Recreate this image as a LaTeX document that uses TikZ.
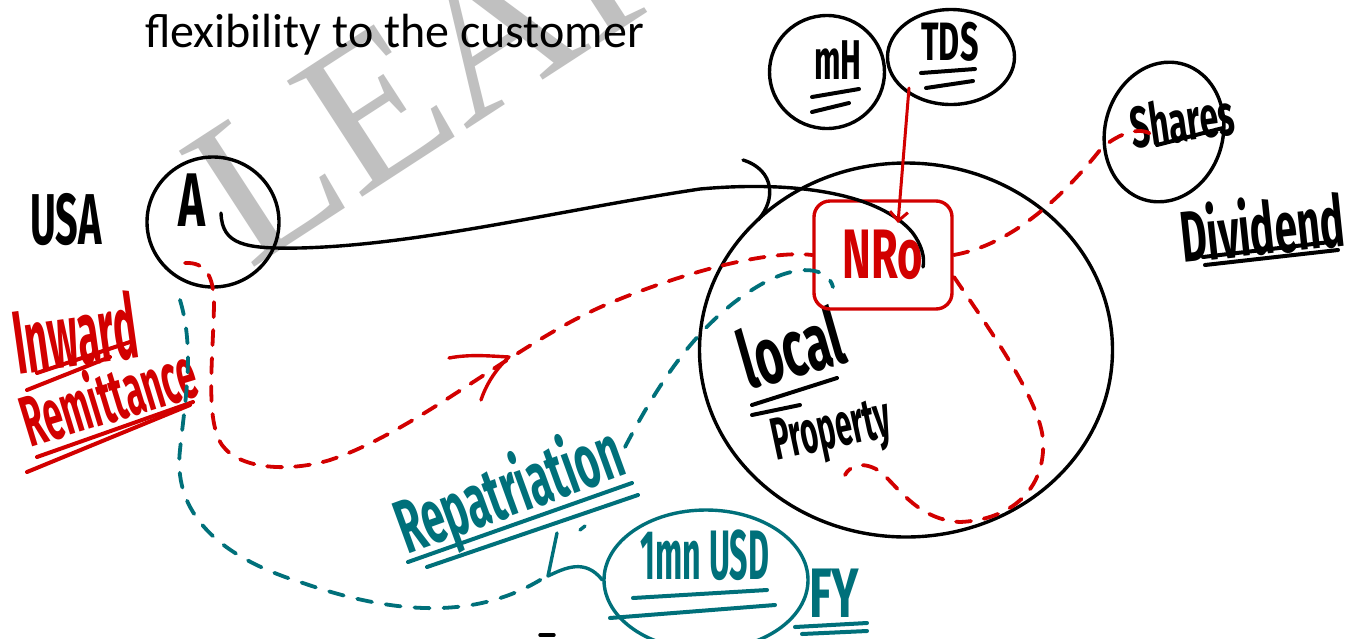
\documentclass[tikz,border=0pt]{standalone}
\usepackage{fontspec}
\setmainfont{Carlito}
\newfontfamily\hand{Fira Sans}
\newfontfamily\wmfont{Liberation Serif}
\usetikzlibrary{shapes.geometric,arrows.meta}
\definecolor{rd}{HTML}{D20000}
\definecolor{tl}{HTML}{00707A}
\definecolor{wm}{HTML}{C0C0C0}
\tikzset{
  stroke/.style={line width=3.4pt, line cap=round, line join=round},
  ul/.style={line width=4pt, line cap=round},
  bub/.style={draw, ellipse, stroke, inner sep=0pt},
  rdash/.style={rd, line width=3.8pt, dash pattern=on 15pt off 13pt, line cap=round},
  tdash/.style={tl, line width=3.8pt, dash pattern=on 15pt off 14pt, line cap=round},
  hw/.style={inner sep=0pt, font=\hand\bfseries},
}
\newcommand\hs[3]{\fontsize{#1}{#1}\selectfont\scalebox{#2}[1]{#3}}
\begin{document}
\begin{tikzpicture}[x=1pt,y=-1pt]
\useasboundingbox (0,0) rectangle (1347,638);
\fill[white] (0,0) rectangle (1347,638);
% watermark
\begin{scope}
  \clip (0,0) rectangle (1347,638);
  \node[text=wm, font=\wmfont\fontsize{211}{211}\selectfont, rotate=33, anchor=base west, inner sep=0pt] (wmark) at (249,271) {\scalebox{1.0}[1]{LEAR}};
\end{scope}
% title
\node[anchor=base west, inner sep=0pt, font=\fontsize{48}{48}\selectfont] (title) at (145,47) {flexibility to the customer};

% USA / A
\node[hw] (usa) at (66,220) {\hs{72}{0.55}{USA}};
\node[bub, minimum width=132pt, minimum height=130pt] (acirc) at (213,222) {};
\node[hw] (alab) at (192,200) {\hs{76}{0.6}{A}};

% bubbles top
\node[bub, minimum width=115pt, minimum height=113pt] (mh) at (827,72) {};
\node[hw] (mhlab) at (838,60) {\hs{56}{0.56}{mH}};
\draw[ul] (812,97) -- (859,89);
\draw[ul] (812,112) -- (849,103);
\node[bub, minimum width=127pt, minimum height=95pt] (tds) at (951,57) {};
\node[hw] (tdslab) at (950,42) {\hs{54}{0.6}{TDS}};
\draw[ul] (921,73) -- (975,69);
\draw[ul] (926,88) -- (973,81);

% shares
\node[bub, minimum width=118pt, minimum height=141pt, rotate=-15] (shares) at (1164,132) {};
\node[hw, rotate=8] (shlab) at (1182,120) {\hs{58}{0.58}{Shares}};
\draw[ul] (1157,145) -- (1223,128);
\node[hw, rotate=6] (div) at (1262,226) {\hs{72}{0.56}{Dividend}};
\draw[ul] (1203,257) -- (1330,242);
\draw[ul] (1205,265) -- (1338,250);

% big circle
\node[bub, minimum width=413pt, minimum height=374pt] (prop) at (906,350) {};
\node[hw, rotate=16] (local) at (791,347) {\hs{80}{0.6}{local}};
\draw[ul] (752,405) -- (837,378);
\draw[ul] (752,415) -- (800,405);
\node[hw, rotate=12] (propt) at (832,434) {\hs{60}{0.5}{Property}};

% NRO
\node[draw=rd, stroke, rounded corners=16pt, minimum width=138pt, minimum height=108pt, text=rd, font=\hand\bfseries, inner sep=0pt] (nro) at (883,255) {\hs{70}{0.62}{NRo}};

% black connector
\coordinate (hook) at (221,213);
\coordinate (blend) at (923,267);
\draw[stroke] (hook) .. controls (222,245) and (245,249) .. (300,248)
  .. controls (420,245) and (560,210) .. (700,189)
  .. controls (800,180) and (880,195) .. (912,232)
  .. controls (922,245) and (925,258) .. (blend);
\draw[stroke] (743,160) .. controls (775,170) and (776,200) .. (758,220);

% TDS -> NRO
\coordinate (tdsout) at (909,88);
\coordinate (nrotip) at (898,223);
\draw[rd, line width=3pt, line cap=round, -{Straight Barb[length=9pt,width=18pt]}] (tdsout) -- (nrotip);

% red dashed
\coordinate (r0) at (185,263);
\draw[rdash] (r0) .. controls (205,262) and (214,275) .. (214,305)
  .. controls (213,360) and (205,420) .. (222,445)
  .. controls (240,470) and (290,472) .. (330,460)
  .. controls (420,430) and (520,340) .. (610,303)
  .. controls (690,270) and (770,250) .. (nro.west);
\coordinate (shin) at (1152,135);
\draw[rdash] (nro.east) .. controls (1010,245) and (1060,200) .. (1100,150)
  .. controls (1115,135) and (1140,125) .. (shin);
\coordinate (r2) at (845,475);
\draw[rdash] (954,277) .. controls (990,330) and (1040,400) .. (1043,440)
  .. controls (1046,490) and (1010,520) .. (960,522)
  .. controls (920,520) and (900,490) .. (882,473)
  .. controls (865,460) and (850,465) .. (r2);
% chevron
\coordinate (chev) at (509,357);
\draw[rd, stroke] (449,358) .. controls (470,354) and (490,356) .. (chev) .. controls (495,370) and (486,385) .. (481,400);

% inward remittance
\node[hw, rotate=8, text=rd] (inward) at (75,333) {\hs{90}{0.44}{Inward}};
\draw[ul, rd] (37,373) -- (130,342);
\draw[ul, rd] (27,390) -- (110,357);
\node[hw, rotate=17, text=rd] (remit) at (108,394) {\hs{72}{0.48}{Remittance}};
\draw[ul, rd] (37,457) -- (193,402);
\draw[ul, rd] (27,472) -- (190,405);

% teal
\coordinate (t0) at (180,300);
\coordinate (t1) at (545,577);
\draw[tdash] (t0) .. controls (195,350) and (185,400) .. (180,450)
  .. controls (172,520) and (230,560) .. (300,582)
  .. controls (380,610) and (470,625) .. (t1);
\coordinate (t2) at (625,447);
\coordinate (t3) at (833,287);
\draw[tdash] (t2) .. controls (660,380) and (700,320) .. (760,285)
  .. controls (800,262) and (828,268) .. (t3);
\node[hw, rotate=20, text=tl] (repat) at (510,493) {\hs{76}{0.54}{Repatriation}};
\draw[ul, tl] (408,562) -- (632,483);
\draw[ul, tl] (427,567) -- (638,495);
\node[bub, draw=tl, minimum width=204pt, minimum height=140pt] (usd) at (706,580) {};
\node[hw, text=tl] (usdlab) at (705,555) {\hs{70}{0.46}{1mn USD}};
\draw[ul, tl] (633,598) -- (767,590);
\draw[ul, tl] (610,618) -- (775,605);
\draw[stroke, tl] (557,533) -- (548,576) .. controls (565,568) and (585,558) .. (usd.west);
\draw[stroke, tl] (580,530) -- (585,526);
\node[hw, text=tl] (fy) at (834,593) {\hs{70}{0.66}{FY}};
\draw[ul, tl] (795,627) -- (867,623);
\draw[ul, tl] (802,634) -- (867,631);
\draw[stroke] (540,635) -- (554,635);
\end{tikzpicture}
\end{document}
